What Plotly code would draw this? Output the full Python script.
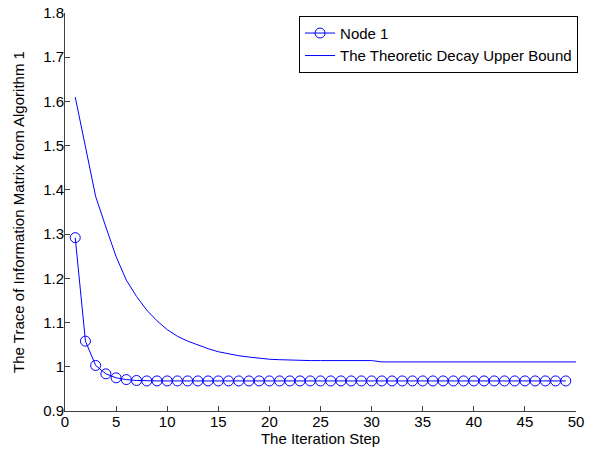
import plotly.graph_objects as go

node1_x = list(range(1, 50))
node1_y = [1.292, 1.058, 1.003, 0.984, 0.975, 0.971, 0.969] + [0.968] * 42

bound_x = list(range(1, 51))
bound_y = [1.610, 1.500, 1.385, 1.316, 1.249, 1.196, 1.159, 1.128, 1.104, 1.084,
           1.069, 1.058, 1.049, 1.041, 1.034, 1.029, 1.025, 1.022, 1.019, 1.017,
           1.016, 1.015] + [1.014] * 8 + [1.011] * 20

x_ticks = list(range(0, 51, 5))
y_ticks = [0.9, 1.0, 1.1, 1.2, 1.3, 1.4, 1.5, 1.6, 1.7, 1.8]
y_labels = ["0.9", "1", "1.1", "1.2", "1.3", "1.4", "1.5", "1.6", "1.7", "1.8"]

blue = "#0000ff"
axis_col = "#404040"
font = dict(family="Liberation Sans, Arial, sans-serif", size=15, color="black")

fig = go.Figure()
fig.add_trace(go.Scatter(
    x=node1_x, y=node1_y, mode="lines+markers", name="Node 1",
    line=dict(color=blue, width=1),
    marker=dict(symbol="circle-open", size=10, color=blue, line=dict(width=1, color=blue)),
))
fig.add_trace(go.Scatter(
    x=bound_x, y=bound_y, mode="lines", name="The Theoretic Decay Upper Bound",
    line=dict(color=blue, width=1),
))

fig.update_layout(
    width=601, height=456,
    margin=dict(l=65, r=25, t=13, b=45),
    paper_bgcolor="white", plot_bgcolor="white",
    font=font,
    showlegend=True,
    legend=dict(x=1.004, xanchor="right", y=0.993, yanchor="top",
                bordercolor="black", borderwidth=1, bgcolor="white",
                font=font, tracegroupgap=0, itemwidth=30),
)
fig.update_xaxes(
    range=[0, 50], tickvals=x_ticks, showgrid=False, zeroline=False,
    showline=True, linecolor=axis_col, linewidth=1, automargin=False,
    ticks="inside", ticklen=5, tickcolor=axis_col, ticklabelstandoff=-3,
    ticklabeloverflow="allow",
    title=dict(text="The Iteration Step", font=font, standoff=1),
)
fig.update_yaxes(
    range=[0.9, 1.8], tickvals=y_ticks, ticktext=y_labels, showgrid=False, zeroline=False,
    showline=True, linecolor=axis_col, linewidth=1, automargin=False,
    ticks="inside", ticklen=5, tickcolor=axis_col, ticklabelstandoff=-3,
    ticklabeloverflow="allow",
    title=dict(text="The Trace of Information Matrix from Algorithm 1", font=font, standoff=14),
)

# remove the default 8px page margin so the figure fills the window exactly
fig.write_html("out.html",
               config={"displayModeBar": False},
               post_script="document.body.style.margin='0';document.body.style.overflow='hidden';")
